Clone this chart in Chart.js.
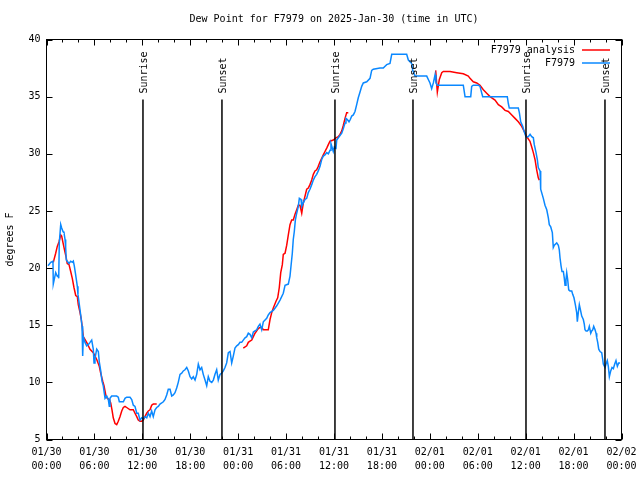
<!DOCTYPE html>
<html>
<head>
<meta charset="utf-8">
<script src="https://cdn.jsdelivr.net/npm/chart.js@4.4.1/dist/chart.umd.min.js"></script>
<style>
  html, body { margin: 0; padding: 0; background: #ffffff; }
  #wrap { width: 640px; height: 480px; }
</style>
</head>
<body>
<div id="wrap"><canvas id="c" width="640" height="480"></canvas></div>
<script>
// ---- data (hours since 2025-01-30 00:00 UTC, dew point in degrees F) ----
const chartTitle = 'Dew Point for F7979 on 2025-Jan-30 (time in UTC)';
const yAxisTitle = 'degrees F';
const seriesNames = ['F7979 analysis', 'F7979'];
const seriesColors = ['#ff0000', '#0a88ff'];

const blueHours = [0.19,0.53,0.81,0.85,1.15,1.35,1.48,1.53,1.60,1.78,1.90,2.07,2.19,2.32,2.40,2.48,2.60,2.82,3.03,3.23,3.36,3.48,3.61,3.78,3.86,3.94,4.11,4.28,4.45,4.53,4.61,4.82,5.03,5.23,5.45,5.66,5.86,5.95,6.07,6.29,6.49,6.61,6.79,6.95,7.11,7.33,7.54,7.74,7.86,7.95,8.16,8.58,8.79,8.99,9.12,9.42,9.62,9.83,10.04,10.46,10.67,10.87,11.08,11.30,11.49,11.71,11.92,12.12,12.33,12.55,12.75,12.96,13.17,13.37,13.59,13.80,14.00,14.21,14.43,14.63,14.84,15.05,15.25,15.47,15.68,15.88,16.09,16.30,16.50,16.72,16.93,17.13,17.34,17.56,17.76,17.97,18.18,18.38,18.60,18.81,19.01,19.22,19.43,19.63,19.85,20.06,20.26,20.47,20.69,20.89,21.10,21.31,21.51,21.73,21.94,22.14,22.35,22.56,22.77,22.98,23.19,23.39,23.60,23.82,24.02,24.23,24.44,24.64,24.86,25.07,25.27,25.48,25.70,25.90,26.11,26.32,26.52,26.73,26.95,27.15,27.57,27.77,27.99,28.40,28.83,29.24,29.65,29.87,30.28,30.49,30.62,30.78,30.90,31.03,31.16,31.33,31.53,31.66,31.87,31.96,32.16,32.37,32.58,32.78,32.99,33.21,33.41,33.62,33.83,34.03,34.25,34.46,34.66,34.87,35.09,35.29,35.50,35.62,35.75,35.91,36.04,36.25,36.34,36.54,36.75,36.97,37.17,37.38,37.50,37.67,37.88,38.04,38.22,38.42,38.63,38.84,39.04,39.26,39.47,39.67,40.10,40.51,40.72,40.92,41.76,42.17,42.30,42.60,43.01,43.23,43.43,45.10,45.31,45.73,45.86,46.14,47.61,47.81,48.02,48.23,48.44,48.65,48.77,48.94,52.19,52.41,53.12,53.24,53.44,54.07,54.28,54.62,57.70,57.83,57.95,58.45,59.08,59.21,59.38,59.63,59.79,60.04,60.33,60.55,60.76,60.96,61.08,61.30,61.46,61.58,61.80,61.88,62.21,62.42,62.64,62.84,62.96,63.14,63.34,63.46,63.59,63.89,64.09,64.21,64.30,64.43,64.55,64.72,64.84,64.93,65.05,65.14,65.26,65.39,65.55,65.77,65.89,66.05,66.22,66.39,66.47,66.59,66.72,66.84,67.02,67.22,67.34,67.43,67.56,67.72,67.85,67.97,68.15,68.27,68.40,68.52,68.69,68.81,68.90,69.02,69.15,69.31,69.52,69.65,69.72,69.94,70.06,70.22,70.35,70.48,70.65,70.81,70.98,71.15,71.31,71.48,71.65,71.82];

const blueDew = [20.2,20.5,20.6,18.6,19.6,19.3,19.4,19.1,22.2,23.8,23.5,23.2,23.1,22.5,21.8,20.7,20.6,20.4,20.6,20.5,20.6,20.2,19.6,18.8,18.4,17.7,16.8,15.9,14.9,12.3,14.0,13.5,13.2,13.3,13.5,13.7,12.9,11.7,12.1,12.9,12.7,11.8,11.0,10.1,9.7,8.6,8.8,8.5,7.9,8.6,8.8,8.8,8.8,8.7,8.3,8.3,8.3,8.6,8.7,8.7,8.5,8.0,7.9,7.3,7.3,6.7,6.9,6.8,7.0,6.9,7.3,7.0,7.5,7.0,7.6,7.8,7.9,8.1,8.2,8.3,8.5,8.9,9.4,9.4,8.8,8.9,9.1,9.5,10.0,10.7,10.8,11.0,11.1,11.3,11.0,10.5,10.3,10.5,10.2,10.7,11.6,11.1,11.3,10.7,10.2,9.7,10.5,10.1,10.0,10.2,10.7,11.1,10.2,10.7,10.8,11.0,11.3,11.7,12.6,12.7,11.7,12.3,13.0,13.2,13.3,13.5,13.5,13.7,13.9,14.0,14.3,14.2,13.9,14.4,14.5,14.6,14.9,15.1,14.6,15.3,15.6,15.9,16.1,16.3,16.7,17.2,17.8,18.5,18.6,19.3,20.2,21.3,22.5,23.2,24.2,24.8,25.4,26.1,26.0,25.4,25.7,26.0,26.1,26.6,26.9,27.3,27.7,28.0,28.2,28.5,28.9,29.5,29.8,29.9,30.1,30.0,30.3,30.9,30.6,30.2,30.6,30.5,31.2,31.4,31.6,31.8,32.2,32.7,33.1,33.0,32.8,33.0,33.3,33.4,33.7,34.3,34.9,35.4,35.9,36.2,36.3,36.6,37.3,37.4,37.5,37.5,37.6,37.8,37.9,38.7,38.7,38.7,38.2,37.9,37.3,36.8,36.8,36.5,36.2,35.7,36.2,36.9,36.2,36.0,36.0,35.0,35.0,35.9,36.0,36.0,35.9,35.0,35.0,34.4,34.0,34.0,34.0,33.6,32.8,32.4,32.0,31.5,31.5,31.7,31.5,31.4,30.8,30.1,29.5,28.8,28.5,26.9,26.1,25.5,25.1,24.4,23.8,23.6,23.1,21.8,22.0,22.2,22.0,21.6,20.9,20.2,19.7,19.7,19.1,18.5,19.0,19.6,19.0,18.1,18.0,18.0,17.7,17.4,16.8,16.1,15.3,16.1,16.8,16.4,15.8,15.5,15.1,14.6,14.5,14.5,14.6,14.9,14.3,14.5,14.6,14.9,14.6,14.3,13.9,13.5,12.9,12.7,12.6,12.0,11.6,11.3,11.6,11.9,11.4,10.5,11.0,11.3,11.2,11.6,11.9,11.4,11.7,11.7];

// analysis series; null marks a gap between analysis runs
const redHours = [0.85,1.15,1.35,1.57,1.78,1.90,2.07,2.28,2.44,2.60,2.82,3.03,3.23,3.44,3.66,3.86,3.98,4.20,4.36,4.48,4.61,5.03,5.45,5.86,6.29,6.61,6.79,7.04,7.20,7.45,7.61,7.86,8.04,8.20,8.36,8.58,8.79,8.99,9.20,9.42,9.62,9.83,10.04,10.46,10.87,11.08,11.30,11.49,11.71,11.92,12.12,12.33,12.55,12.75,12.96,13.17,13.37,13.80,
  19.0,
  24.64,25.07,25.27,25.48,25.70,25.90,26.11,26.32,26.52,26.73,26.95,27.15,27.77,27.99,28.20,28.40,28.74,28.95,29.15,29.33,29.53,29.65,29.87,30.08,30.28,30.49,30.70,30.90,31.12,31.33,31.53,31.74,31.96,32.16,32.37,32.58,32.78,32.99,33.21,33.41,33.62,33.83,34.03,34.25,34.46,34.66,34.87,35.09,35.29,35.50,35.91,36.25,36.54,36.75,36.97,37.17,37.38,37.59,37.79,
  43.0,
  48.73,48.94,49.19,49.49,49.69,50.53,51.37,52.19,52.82,53.03,53.44,53.87,54.28,54.70,55.12,55.54,56.16,56.58,57.00,57.42,57.83,58.26,58.67,59.08,59.50,59.79,60.13,60.54,60.76,60.96,61.17,61.38,61.58,61.71];

const redDew = [20.5,21.3,21.9,22.3,22.9,22.8,22.2,21.5,21.0,20.4,20.3,19.7,19.1,18.3,17.6,17.5,16.8,16.1,15.5,14.8,14.0,13.5,12.9,12.6,12.0,11.4,10.8,10.1,9.7,8.8,8.6,8.5,8.2,7.6,6.9,6.4,6.3,6.6,7.0,7.5,7.8,7.9,7.8,7.6,7.6,7.3,7.0,6.7,6.6,6.6,6.7,7.0,7.3,7.5,7.6,8.0,8.1,8.1,
  null,
  13.0,13.2,13.5,13.6,13.7,14.0,14.3,14.5,14.7,14.8,14.8,14.6,14.6,15.5,16.1,16.5,17.1,17.4,18.3,19.6,20.3,21.2,21.3,22.0,22.9,23.8,24.2,24.2,24.7,25.1,25.5,25.5,24.8,25.7,26.3,26.9,27.0,27.3,27.7,28.2,28.5,28.6,28.9,29.3,29.6,29.9,30.2,30.5,30.8,31.1,31.2,31.4,31.5,31.7,32.0,32.5,33.1,33.6,33.6,
  null,
  37.3,35.4,36.5,37.1,37.2,37.2,37.1,37.0,36.8,36.6,36.3,36.2,36.0,35.6,35.3,35.0,34.7,34.3,34.1,33.8,33.7,33.4,33.1,32.8,32.4,32.0,31.5,31.1,30.6,30.1,29.5,28.6,27.9,27.7];

// sunrise / sunset markers (hours since start)
const eventHours = [12.08, 21.97, 36.12, 45.89, 60.04, 69.93];
const eventNames = ['Sunrise', 'Sunset', 'Sunrise', 'Sunset', 'Sunrise', 'Sunset'];

// x axis tick labels every 6 h
const dayLabels = ['01/30', '01/31', '02/01', '02/02'];
const hourLabels = ['00:00', '06:00', '12:00', '18:00'];

// ---- build chart ----
function zip(xs, ys) {
  const n = Math.min(xs.length, ys.length);
  const out = [];
  for (let i = 0; i < n; i++) out.push({ x: xs[i], y: ys[i] });
  return out;
}

const FONT = 'DejaVu Sans Mono';

const gnuplotDecor = {
  id: 'gnuplotDecor',
  afterDraw(chart) {
    const ctx = chart.ctx;
    const a = chart.chartArea;
    const xs = chart.scales.x, ys = chart.scales.y;
    ctx.save();
    // event lines and labels
    const topVal = 34.75;
    ctx.strokeStyle = '#000';
    ctx.lineWidth = 1.5;
    ctx.fillStyle = '#000';
    ctx.font = '10px "' + FONT + '"';
    eventHours.forEach((h, i) => {
      const x = xs.getPixelForValue(h);
      const yTop = ys.getPixelForValue(topVal);
      ctx.beginPath();
      ctx.moveTo(x, a.bottom);
      ctx.lineTo(x, yTop);
      ctx.stroke();
      ctx.save();
      ctx.translate(x + 1, yTop - 6);
      ctx.rotate(-Math.PI / 2);
      ctx.textAlign = 'left';
      ctx.textBaseline = 'middle';
      ctx.fillText(eventNames[i], 0, 0);
      ctx.restore();
    });
    // border
    ctx.lineWidth = 1;
    ctx.strokeRect(a.left, a.top, a.right - a.left, a.bottom - a.top);
    // x ticks (inward, top and bottom)
    ctx.beginPath();
    for (let h = 0; h <= 72; h += 2) {
      const x = Math.round(xs.getPixelForValue(h)) + 0.5;
      const len = (h % 6 === 0) ? 6 : 3;
      ctx.moveTo(x, a.bottom); ctx.lineTo(x, a.bottom - len);
      ctx.moveTo(x, a.top); ctx.lineTo(x, a.top + len);
    }
    // y ticks
    for (let v = 5; v <= 40; v += 5) {
      const y = Math.round(ys.getPixelForValue(v)) + 0.5;
      ctx.moveTo(a.left, y); ctx.lineTo(a.left + 6, y);
      ctx.moveTo(a.right, y); ctx.lineTo(a.right - 6, y);
    }
    ctx.stroke();
    // title
    ctx.textAlign = 'center';
    ctx.textBaseline = 'middle';
    ctx.fillText(chartTitle, (a.left + a.right) / 2, 19);
    // legend
    ctx.textAlign = 'right';
    chart.data.datasets.forEach((ds, i) => {
      const y = 50 + i * 13;
      ctx.fillStyle = '#000';
      ctx.fillText(ds.label, 575, y);
      ctx.strokeStyle = ds.borderColor;
      ctx.lineWidth = 1.5;
      ctx.beginPath();
      ctx.moveTo(582, y);
      ctx.lineTo(610, y);
      ctx.stroke();
    });
    ctx.restore();
  }
};

new Chart(document.getElementById('c'), {
  type: 'line',
  data: {
    datasets: [
      {
        label: seriesNames[0],
        data: zip(redHours, redDew),
        borderColor: seriesColors[0],
        backgroundColor: seriesColors[0],
        borderWidth: 1.5,
        pointRadius: 0,
        tension: 0,
        spanGaps: false,
        order: 1
      },
      {
        label: seriesNames[1],
        data: zip(blueHours, blueDew),
        borderColor: seriesColors[1],
        backgroundColor: seriesColors[1],
        borderWidth: 1.5,
        pointRadius: 0,
        tension: 0,
        order: 0
      }
    ]
  },
  options: {
    responsive: false,
    animation: false,
    events: [],
    layout: { padding: { top: 39.5, right: 18.5, bottom: 0, left: 0 } },
    plugins: {
      legend: { display: false },
      title: { display: false },
      tooltip: { enabled: false }
    },
    scales: {
      x: {
        type: 'linear',
        min: 0, max: 72,
        grid: { display: false, drawTicks: false },
        border: { display: false },
        ticks: {
          stepSize: 6,
          autoSkip: false,
          maxRotation: 0,
          padding: 6,
          color: '#000',
          font: { family: FONT, size: 10, lineHeight: 1.4 },
          callback: (v) => [dayLabels[Math.floor(v / 24)], hourLabels[Math.round((v % 24) / 6)]]
        },
        afterFit: (s) => { s.height = 40.5; s.paddingLeft = 0; s.paddingRight = 0; }
      },
      y: {
        type: 'linear',
        min: 5, max: 40,
        grid: { display: false, drawTicks: false },
        border: { display: false },
        ticks: {
          stepSize: 5,
          padding: 6,
          color: '#000',
          font: { family: FONT, size: 10 }
        },
        title: {
          display: true,
          text: yAxisTitle,
          color: '#000',
          padding: { top: 4, bottom: 0 },
          font: { family: FONT, size: 10 }
        },
        afterFit: (s) => { s.width = 46.5; s.paddingTop = 0; s.paddingBottom = 0; }
      }
    }
  },
  plugins: [gnuplotDecor]
});
</script>
</body>
</html>
